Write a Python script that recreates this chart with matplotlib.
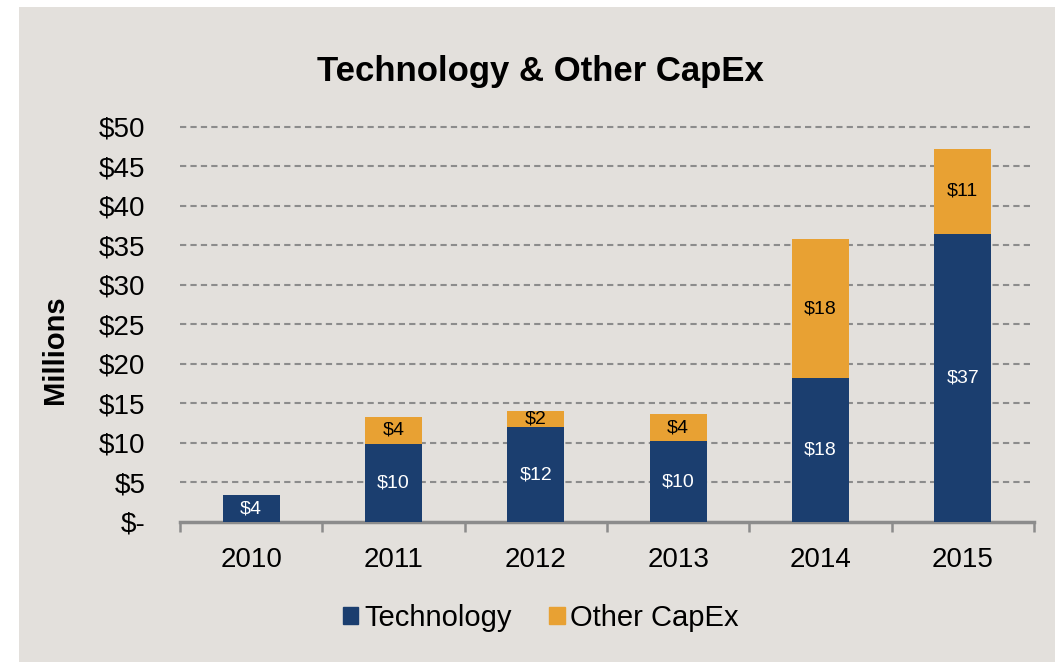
import numpy as np
import matplotlib
matplotlib.use("Agg")
import matplotlib.pyplot as plt
from matplotlib.patches import Rectangle, Patch

years = ["2010", "2011", "2012", "2013", "2014", "2015"]
technology = [3.4, 9.9, 12.0, 10.2, 18.2, 36.5]
other = [0.0, 3.4, 2.1, 3.5, 17.6, 10.7]
tech_labels = ["$4", "$10", "$12", "$10", "$18", "$37"]
other_labels = ["", "$4", "$2", "$4", "$18", "$11"]
yticks = [0, 5, 10, 15, 20, 25, 30, 35, 40, 45, 50]
ytick_labels = ["$-"] + [f"${v}" for v in yticks[1:]]

NAVY = "#1b3e6f"; ORANGE = "#e8a133"; BG = "#e3e0dc"; GRID = "#8c8c8c"
plt.rcParams["font.family"] = ["Liberation Sans", "DejaVu Sans"]

fig = plt.figure(figsize=(10.55, 6.62), dpi=100)
fig.patches.append(Rectangle((19 / 1055, 0), 1, 1 - 7 / 662, transform=fig.transFigure,
                             facecolor=BG, edgecolor="none", zorder=-10))
ax = fig.add_axes([180 / 1055, 0.2115, 854 / 1055, 0.5967])
ax.set_facecolor("none")

x = np.arange(len(years))
ax.bar(x, technology, width=0.4, color=NAVY, zorder=3, label="Technology")
ax.bar(x, other, width=0.4, bottom=technology, color=ORANGE, zorder=3, label="Other CapEx")
for i in range(len(years)):
    ax.text(x[i], technology[i] / 2, tech_labels[i], ha="center", va="center", color="white", fontsize=14, zorder=4)
    if other_labels[i]:
        ax.text(x[i], technology[i] + other[i] / 2, other_labels[i], ha="center", va="center",
                color="black", fontsize=14, zorder=4)

ax.set_xlim(-0.5, 5.5); ax.set_ylim(0, 50)
ax.set_yticks(yticks); ax.set_yticklabels(ytick_labels, fontsize=20)
ax.tick_params(axis="y", length=0, pad=25)
ax.set_xticks(x); ax.set_xticklabels(years, fontsize=20)
ax.set_xticks(np.arange(-0.5, 6, 1), minor=True)
ax.tick_params(axis="x", which="major", length=0, pad=18)
ax.tick_params(axis="x", which="minor", length=7, width=1.8, color=GRID, direction="out")
for g in yticks[1:]:
    ax.axhline(g, color=GRID, lw=1.5, ls=(0, (3, 2)), zorder=1, clip_on=False)
for s in ["top", "right", "left"]:
    ax.spines[s].set_visible(False)
ax.spines["bottom"].set_color(GRID); ax.spines["bottom"].set_linewidth(2.5)
fig.text(55 / 1055, 1 - 350 / 662, "Millions", rotation=90, ha="center", va="center",
         fontsize=21, fontweight="bold")
fig.text(540 / 1055, 1 - 72 / 662, "Technology & Other CapEx", ha="center", va="center",
         fontsize=25, fontweight="bold")
handles = [Patch(color=NAVY), Patch(color=ORANGE)]
fig.legend(handles, ["Technology", "Other CapEx"], loc="center", bbox_to_anchor=(541 / 1055, 1 - 618 / 662),
           ncol=2, frameon=False, fontsize=21, handlelength=0.52, handleheight=0.52, handletextpad=0.2,
           columnspacing=1.3)
fig.savefig("out.png", dpi=100)
